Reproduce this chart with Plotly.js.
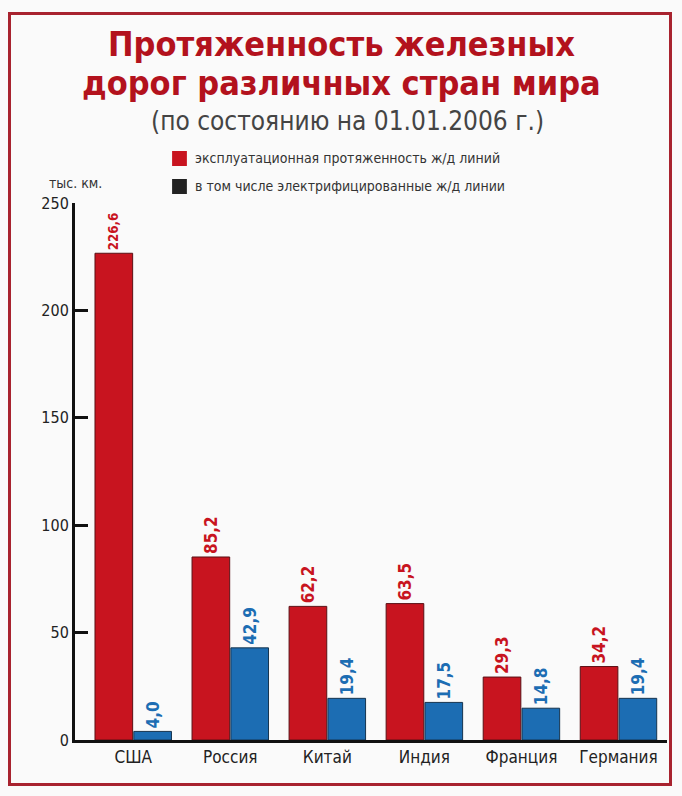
<!DOCTYPE html>
<html>
<head>
<meta charset="utf-8">
<script src="https://cdn.plot.ly/plotly-3.0.1.min.js"></script>
<style>
  body { margin: 0; background: #ffffff; }
  #wrap { position: relative; width: 682px; height: 796px; }
  #chart { position: absolute; left: 0; top: 0; width: 682px; height: 796px; }
  #frame { position: absolute; left: 8px; top: 12px; width: 658px; height: 768px;
           border: 3px solid #a8232f; pointer-events: none; }
</style>
</head>
<body>
<div id="wrap">
  <div id="chart"></div>
  <div id="frame"></div>
</div>
<script>
const countries = ['США', 'Россия', 'Китай', 'Индия', 'Франция', 'Германия'];
const totalLength = [226.6, 85.2, 62.2, 63.5, 29.3, 34.2];
const electrified = [4.0, 42.9, 19.4, 17.5, 14.8, 19.4];
const yTicks = [0, 50, 100, 150, 200, 250];

const titleLines = ['Протяженность железных', 'дорог различных стран мира'];
const subtitle = '(по состоянию на 01.01.2006 г.)';
const legendLabels = [
    'эксплуатационная протяженность ж/д линий',
    'в том числе электрифицированные ж/д линии'
];
const legendColors = ['#c8141f', '#222222'];

const RED = '#c8141f';
const BLUE = '#1c6db3';
const FONT = '"DejaVu Sans Condensed", "Liberation Sans Narrow", sans-serif';

// plot area: y=0 at 740px, y=250 at 203px
const py = p => (740 - p) / 537;

const traces = [{
    x: countries,
    y: totalLength,
    type: 'bar',
    name: legendLabels[0],
    marker: { color: RED, line: { color: '#5a1015', width: 1 } },
    texttemplate: '%{y:.1f}',
    textposition: 'outside',
    textangle: -90,
    outsidetextfont: { family: FONT, size: 17, color: RED, weight: 'bold' },
    cliponaxis: false,
    showlegend: false
}, {
    x: countries,
    y: electrified,
    type: 'bar',
    name: legendLabels[1],
    marker: { color: BLUE, line: { color: '#15344f', width: 1 } },
    texttemplate: '%{y:.1f}',
    textposition: 'outside',
    textangle: -90,
    outsidetextfont: { family: FONT, size: 17, color: BLUE, weight: 'bold' },
    cliponaxis: false,
    showlegend: false
}];

// hand-made legend (the second swatch is dark, as in the original)
const legendShapes = legendLabels.map((lab, i) => ({
    type: 'rect', xref: 'paper', yref: 'paper',
    x0: 0.164, x1: 0.189,
    y0: py(166 + i * 28), y1: py(151 + i * 28),
    fillcolor: legendColors[i], line: { width: 0 }
}));
const legendNotes = legendLabels.map((lab, i) => ({
    text: lab, xref: 'paper', yref: 'paper',
    x: 0.2, y: py(158 + i * 28),
    xanchor: 'left', yanchor: 'middle', showarrow: false,
    font: { family: FONT, size: 14, color: '#333333' }
}));
const titleNotes = titleLines.map((t, i) => ({
    text: '<b>' + t + '</b>', xref: 'paper', yref: 'paper',
    x: 0.45, y: py(44 + i * 39),
    xanchor: 'center', yanchor: 'middle', showarrow: false,
    font: { family: FONT, size: 34, color: '#b3121d' }
}));

const layout = {
    width: 682,
    height: 796,
    margin: { l: 75, r: 15, t: 203, b: 56 },
    paper_bgcolor: '#fafafa',
    plot_bgcolor: '#fafafa',
    separators: ', ',
    barmode: 'group',
    bargap: 0.2,
    bargroupgap: 0.03,
    font: { family: FONT, color: '#222222' },
    xaxis: {
        range: [-0.6, 5.5],
        showline: true, linecolor: '#111111', linewidth: 3,
        ticks: '', showgrid: false, zeroline: false,
        tickfont: { family: FONT, size: 17, color: '#222222' }
    },
    yaxis: {
        range: [0, 250],
        tickvals: yTicks,
        showline: true, linecolor: '#111111', linewidth: 3,
        ticks: 'inside', ticklen: 13, tickwidth: 3, tickcolor: '#111111',
        showgrid: false, zeroline: false,
        tickfont: { family: FONT, size: 16, color: '#222222' }
    },
    shapes: legendShapes,
    annotations: titleNotes.concat([{
        text: subtitle,
        xref: 'paper', yref: 'paper', x: 0.46, y: py(121),
        xanchor: 'center', yanchor: 'middle', showarrow: false,
        font: { family: FONT, size: 26, color: '#444444' }
    }, {
        text: 'тыс. км.',
        xref: 'paper', yref: 'paper', x: 0, y: py(183),
        xanchor: 'center', yanchor: 'middle', showarrow: false,
        font: { family: FONT, size: 14, color: '#333333' }
    }], legendNotes)
};

Plotly.newPlot('chart', traces, layout, { displayModeBar: false });
</script>
</body>
</html>
